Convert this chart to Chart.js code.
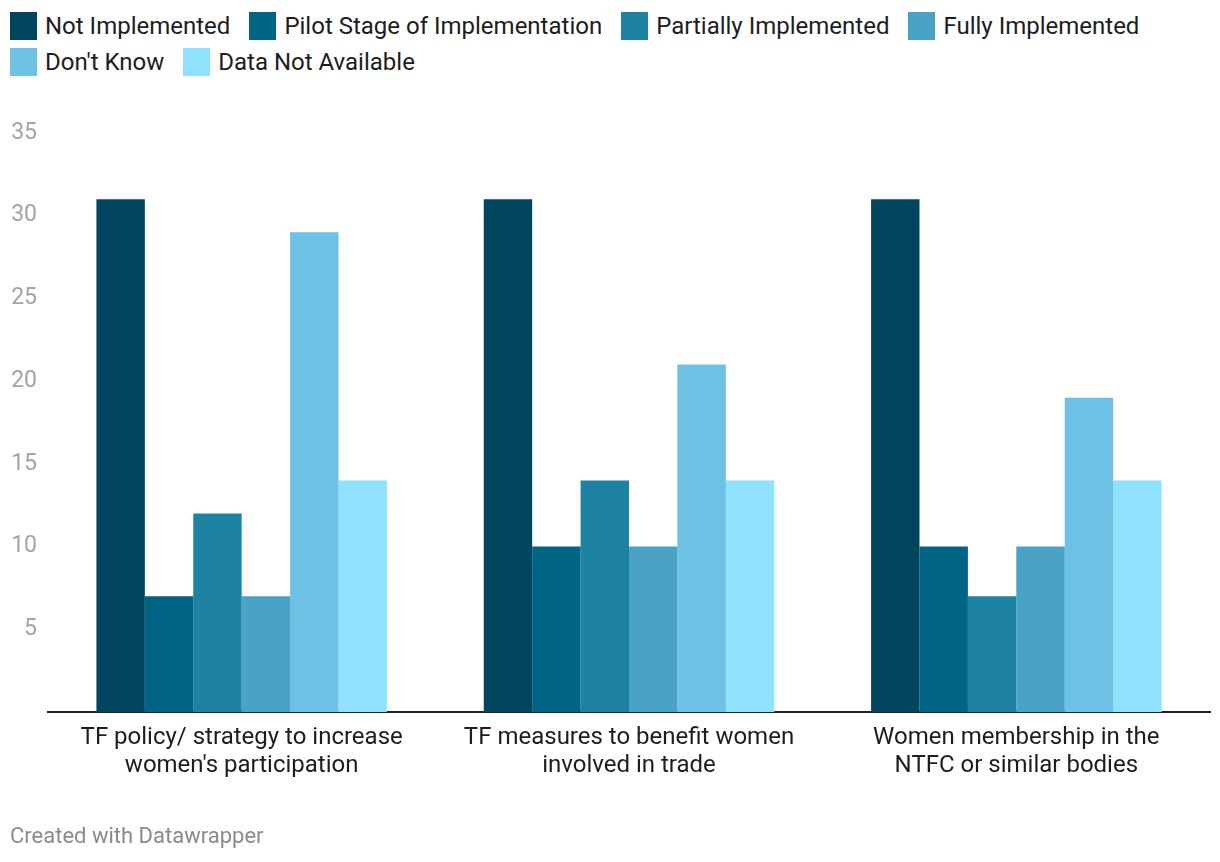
<!DOCTYPE html>
<html>
<head>
<meta charset="utf-8">
<script src="https://cdn.jsdelivr.net/npm/chart.js@4/dist/chart.umd.min.js"></script>
<style>
  html, body { margin:0; padding:0; background:#fff; }
  body { width:1220px; height:862px; position:relative; overflow:hidden; font-family: Roboto, "Noto Sans", sans-serif; }
  #wrap { position:absolute; left:0; top:0; width:1220px; height:862px; }
  #legend { position:absolute; left:10px; top:12px; width:1205px; display:flex; flex-wrap:wrap; row-gap:8px; }
  .item { display:flex; align-items:center; margin-right:19px; height:28px; }
  .sw { width:27px; height:28px; margin-right:8px; flex:none; }
  .lbl { font-size:24px; color:#1d1d1d; white-space:nowrap; line-height:28px; }
  #footer { position:absolute; left:10px; top:822px; font-size:22px; color:#8a8a8a; line-height:28px; }
</style>
</head>
<body>
<div id="legend"></div>
<div id="wrap"><canvas id="c" width="1220" height="862"></canvas></div>
<div id="footer">Created with Datawrapper</div>
<script>
const categories = [
  ["TF policy/ strategy to increase", "women's participation"],
  ["TF measures to benefit women", "involved in trade"],
  ["Women membership in the", "NTFC or similar bodies"]
];
const seriesNames = ["Not Implemented", "Pilot Stage of Implementation", "Partially Implemented", "Fully Implemented", "Don't Know", "Data Not Available"];
const notImplemented = [31, 31, 31];
const pilotStage = [7, 10, 10];
const partiallyImplemented = [12, 14, 7];
const fullyImplemented = [7, 10, 10];
const dontKnow = [29, 21, 19];
const dataNotAvailable = [14, 14, 14];
const yTicks = [5, 10, 15, 20, 25, 30, 35];
const colors = ['#01455f', '#006485', '#1e83a3', '#49a3c6', '#6dc1e5', '#8fe1fd'];

const seriesValues = [notImplemented, pilotStage, partiallyImplemented, fullyImplemented, dontKnow, dataNotAvailable];

const legend = document.getElementById('legend');
seriesNames.forEach((n, i) => {
  const it = document.createElement('div'); it.className = 'item';
  const sw = document.createElement('div'); sw.className = 'sw'; sw.style.background = colors[i];
  const lb = document.createElement('span'); lb.className = 'lbl'; lb.textContent = n;
  it.appendChild(sw); it.appendChild(lb); legend.appendChild(it);
});

new Chart(document.getElementById('c'), {
  type: 'bar',
  data: {
    labels: categories,
    datasets: seriesNames.map((n, i) => ({
      label: n,
      data: seriesValues[i],
      backgroundColor: colors[i],
      borderWidth: 0,
      categoryPercentage: 0.75,
      barPercentage: 1.0
    }))
  },
  options: {
    responsive: false,
    animation: false,
    layout: { padding: { top: 133, left: 0, right: 10, bottom: 80 } },
    plugins: { legend: { display: false }, tooltip: { enabled: false } },
    scales: {
      x: {
        afterFit: (axis) => { axis.height = 70; },
        grid: { display: false, drawTicks: false },
        border: { display: true, color: '#222222', width: 2 },
        ticks: { color: '#1d1d1d', font: { family: 'Roboto', size: 24, lineHeight: 1.167 }, padding: 12, maxRotation: 0, autoSkip: false }
      },
      y: {
        min: 0, max: 35,
        afterFit: (axis) => { axis.width = 48; },
        afterBuildTicks: (axis) => { axis.ticks = yTicks.map(v => ({ value: v })); },
        grid: { display: false, drawTicks: false },
        border: { display: false },
        ticks: { color: '#a3a3a3', font: { family: 'Roboto', size: 23 }, padding: 11 }
      }
    }
  }
});
</script>
</body>
</html>
